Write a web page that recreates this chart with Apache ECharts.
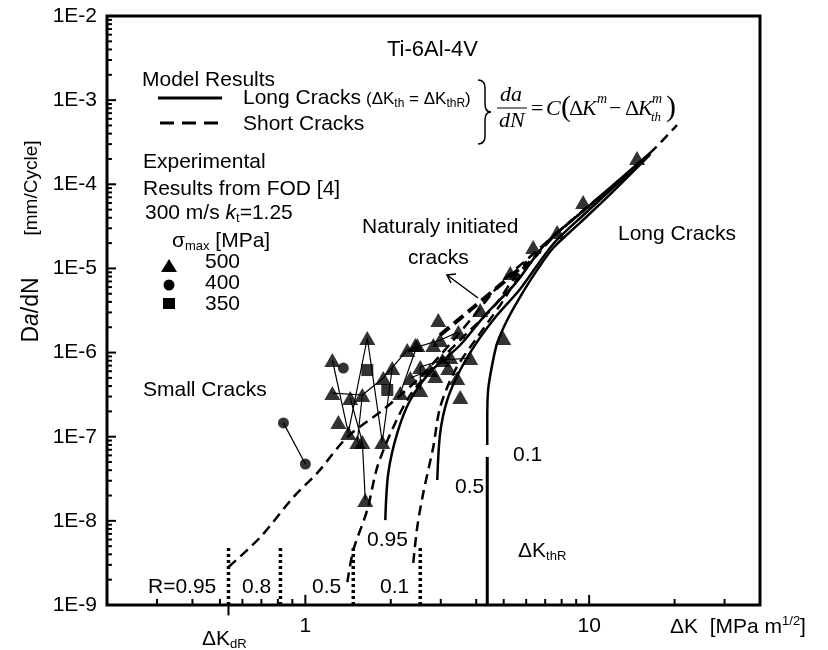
<!DOCTYPE html>
<html>
<head>
<meta charset="utf-8">
<script src="https://cdn.jsdelivr.net/npm/echarts@6/dist/echarts.min.js"></script>
<style>
html,body{margin:0;padding:0;background:#fff;}
#main{width:828px;height:650px;}
</style>
</head>
<body>
<div id="main"></div>
<script>
// axis ticks (log scale)
var xMajorTicks = [1, 10];
var xMinorTicks = [0.3, 0.4, 0.5, 0.6, 0.7, 0.8, 0.9, 2, 3, 4, 5, 6, 7, 8, 9, 20, 30];
var yDecades = [1e-9, 1e-8, 1e-7, 1e-6, 1e-5, 1e-4, 1e-3, 1e-2];
var yMinorFactors = [2, 3, 4, 5, 6, 7, 8, 9];
var xRange = [0.2, 40];
var yRange = [1e-9, 1e-2];
var dKdR = 0.536;   // ΔK_dR mark under the axis

// model curves, short cracks (dashed)
var shortR095 = [[0.536,2.83e-9],[0.695,6.43e-9],[0.908,1.92e-8],[1.102,3.71e-8],[1.406,9.91e-8],[1.913,2.19e-7],[2.541,5.13e-7],[3.374,1.49e-6],[4.131,3.39e-6],[4.981,7.2e-6],[6.053,1.29e-5],[7.715,2.64e-5],[11.2,7.66e-5],[16.4,2.36e-4],[20.4,5.06e-4]];
var shortR05 = [[1.406,1.87e-9],[1.476,4.5e-9],[1.653,1.35e-8],[1.793,4.37e-8],[2.042,1.3e-7],[2.343,3.13e-7],[2.87,7.11e-7],[3.66,1.62e-6],[4.667,3.67e-6],[5.49,8.0e-6],[6.561,1.5e-5],[7.715,2.64e-5],[11.2,7.66e-5]];
var shortR01 = [[2.40,3.16e-9],[2.479,8.45e-9],[2.603,2.14e-8],[2.823,7.55e-8],[2.986,2.25e-7],[3.374,6.2e-7],[3.97,1.41e-6],[4.861,3.67e-6],[5.715,8.5e-6],[6.561,1.45e-5],[7.715,2.64e-5],[11.2,7.66e-5]];
// model curves, long cracks (solid)
var longR095 = [[1.913,1.02e-8],[1.96,3.71e-8],[2.109,1.11e-7],[2.343,2.73e-7],[2.755,5.87e-7],[3.514,1.23e-6],[4.30,2.79e-6],[5.49,6.6e-6],[7.0,1.95e-5],[9.523,4.81e-5],[16.4,2.36e-4]];
var longR05 = [[2.917,3.06e-8],[2.986,1.11e-7],[3.162,2.73e-7],[3.514,6.2e-7],[4.03,1.34e-6],[4.743,2.79e-6],[5.715,5.7e-6],[7.47,1.95e-5],[9.68,4.5e-5],[16.4,2.3e-4]];
var longR01 = [[4.375,7.96e-8],[4.375,1.58e-7],[4.406,3.59e-7],[4.552,7.11e-7],[4.743,1.30e-6],[5.144,2.44e-6],[5.715,4.6e-6],[6.561,9.6e-6],[7.47,1.75e-5],[9.30,3.5e-5],[11.86,7.6e-5],[16.4,2.25e-4]];
var thresholdLine = [[4.375,1e-9],[4.375,5.74e-8]];
var naturalCracks = [[2.986,1.62e-6],[3.81,3.2e-6],[4.861,6.35e-6],[6.053,1.19e-5]];
// dotted ΔK_d lines for R = 0.95, 0.8, 0.5, 0.1
var dottedX = [0.536, 0.817, 1.475, 2.54];
var dottedTop = [4.89e-9, 5.1e-9, 4.9e-9, 4.9e-9];

// experimental points (FOD), sigma_max 500 / 400 / 350 MPa
var tri500 = [[1.245,8.16e-7],[1.417,1.11e-7],[1.653,1.49e-6],[1.867,8.65e-8],[2.024,6.55e-7],[1.245,3.30e-7],[1.588,3.13e-7],[1.439,2.88e-7],[1.588,8.65e-8],[1.626,1.77e-8],[1.307,1.50e-7],[1.524,8.65e-8],[1.882,4.99e-7],[2.286,1.07e-6],[2.161,3.30e-7],[2.479,1.23e-6],[2.986,1.41e-6],[3.46,1.75e-6],[2.541,3.59e-7],[2.541,6.73e-7],[3.04,8.16e-7],[3.81,8.61e-7],[2.343,4.99e-7],[2.755,6.2e-7],[3.24,8.85e-7],[2.94,2.44e-6],[2.44,1.23e-6],[2.823,1.23e-6],[3.188,6.55e-7],[2.87,5.26e-7],[3.429,4.99e-7],[3.514,2.96e-7],[4.981,1.49e-6],[4.131,3.2e-6],[5.271,8.83e-6],[6.35,1.8e-5],[7.715,2.71e-5],[9.523,6.15e-5],[14.75,2.05e-4]];
var tri500Paths = [
  [[1.245,8.16e-7],[1.417,1.11e-7],[1.653,1.49e-6],[1.867,8.65e-8],[2.024,6.55e-7]],
  [[1.245,3.30e-7],[1.588,3.13e-7]],
  [[1.439,2.88e-7],[1.588,8.65e-8],[1.626,1.77e-8]],
  [[1.524,8.65e-8],[1.588,3.13e-7],[1.882,4.99e-7],[2.286,1.07e-6]],
  [[2.161,3.30e-7],[2.479,1.23e-6]],
  [[2.286,1.07e-6],[2.986,1.41e-6],[3.46,1.75e-6]],
  [[2.541,3.59e-7],[2.541,6.73e-7],[3.04,8.16e-7],[3.81,8.61e-7]],
  [[2.343,4.99e-7],[2.755,6.2e-7],[3.24,8.85e-7]]
];
var cir400 = [[0.837,1.46e-7],[1.0,4.74e-8]];
var cir400Single = [[1.361,6.55e-7]];
var sq350 = [[1.653,6.2e-7],[1.944,3.59e-7]];

var F = 'Liberation Sans';
var FS = 'Liberation Serif';

function curve(data, dash, width, z) {
    return {
        type: 'line', data: data, symbol: 'none', smooth: 0.3, silent: true, z: z || 3,
        lineStyle: {color: '#000', width: width, type: dash}
    };
}
function seg(data, width, clip) {
    return {type: 'line', data: data, symbol: 'none', silent: true, z: 8, clip: clip !== false,
        lineStyle: {color: '#000', width: width}};
}

var series = [];
// tick marks as short segments on the axes (length given as a log-scale step)
xMajorTicks.forEach(function (v) { series.push(seg([[v, yRange[0]], [v, yRange[0] * 1.32]], 2)); });
xMinorTicks.forEach(function (v) { series.push(seg([[v, yRange[0]], [v, yRange[0] * 1.18]], 2)); });
series.push(seg([[dKdR, yRange[0]], [dKdR, yRange[0] / 1.33]], 2, false));
yDecades.forEach(function (d, i) {
    series.push(seg([[xRange[0], d], [xRange[0] * 1.076, d]], 2));
    if (i < yDecades.length - 1) {
        yMinorFactors.forEach(function (f) {
            series.push(seg([[xRange[0], d * f], [xRange[0] * 1.041, d * f]], 2));
        });
    }
});

series.push(
    curve(shortR095, [10, 6], 2.5),
    curve(shortR05, [10, 6], 2.5),
    curve(shortR01, [10, 6], 2.5),
    curve(longR095, 'solid', 2.5),
    curve(longR05, 'solid', 2.5),
    curve(longR01, 'solid', 2.5),
    curve(naturalCracks, [12, 6], 4),
    {type: 'line', data: thresholdLine, symbol: 'none', silent: true, lineStyle: {color: '#000', width: 3}}
);
dottedX.forEach(function (x, i) {
    series.push({type: 'line', data: [[x, yRange[0]], [x, dottedTop[i]]], symbol: 'none', silent: true,
        lineStyle: {color: '#000', width: 3.5, type: [3, 3]}});
});
tri500Paths.forEach(function (p) {
    series.push({type: 'line', data: p, symbol: 'none', silent: true, z: 4, lineStyle: {color: '#000', width: 1.2}});
});
series.push({type: 'line', data: cir400, symbol: 'none', silent: true, z: 4, lineStyle: {color: '#000', width: 1.2}});
series.push({type: 'scatter', data: tri500, symbol: 'triangle', symbolSize: [16, 14], silent: true, z: 6, itemStyle: {color: '#000'}});
series.push({type: 'scatter', data: cir400.concat(cir400Single), symbol: 'circle', symbolSize: 11, silent: true, z: 6, itemStyle: {color: '#000'}});
series.push({type: 'scatter', data: sq350, symbol: 'rect', symbolSize: 12, silent: true, z: 6, itemStyle: {color: '#000'}});

// text helpers
var RICH = {
    i: {fontFamily: F, fontSize: 21, fontStyle: 'italic'},
    i2: {fontFamily: F, fontSize: 23, fontStyle: 'italic'},
    g: {fontFamily: F, fontSize: 21},
    sub: {fontFamily: F, fontSize: 13, padding: [11, 0, 0, 0]},
    sub2: {fontFamily: F, fontSize: 12, padding: [9, 0, 0, 0]},
    sup: {fontFamily: F, fontSize: 13, padding: [0, 0, 11, 0]}
};
function T(x, y, text, size, extra) {
    var st = {text: text, fontFamily: F, fontSize: size || 21, fill: '#000',
        align: 'left', textAlign: 'left', verticalAlign: 'middle', textVerticalAlign: 'middle', rich: RICH};
    for (var k in extra) st[k] = extra[k];
    return {type: 'text', x: x, y: y, z: 20, style: st};
}
function M(x, y, text, size, italic) {
    return T(x, y, text, size || 22, {fontFamily: FS, fontStyle: italic === false ? 'normal' : 'italic'});
}
function L(x1, y1, x2, y2, w) {
    return {type: 'line', z: 20, shape: {x1: x1, y1: y1, x2: x2, y2: y2}, style: {stroke: '#000', lineWidth: w || 1.5}};
}
function Q(x1, y1, cx, cy, x2, y2) {
    return {type: 'bezierCurve', z: 20, shape: {x1: x1, y1: y1, cpx1: cx, cpy1: cy, x2: x2, y2: y2},
        style: {stroke: '#000', lineWidth: 1.5, fill: null}};
}
function V(x, y, text, size) {   // rotated (vertical) text
    var el = T(x, y, text, size);
    el.rotation = Math.PI / 2;
    el.style.align = el.style.textAlign = 'center';
    return el;
}

var graphics = [
    T(387, 50, 'Ti-6Al-4V', 22),
    T(142, 80, 'Model Results'),
    L(158, 98, 222, 98, 3),
    T(243, 98, 'Long Cracks'),
    T(366, 99, '(ΔK{sub2|th} = ΔK{sub2|thR})', 17),
    {type: 'line', z: 20, shape: {x1: 160, y1: 123, x2: 220, y2: 123}, style: {stroke: '#000', lineWidth: 3, lineDash: [14, 8]}},
    T(243, 124, 'Short Cracks'),
    T(143, 162, 'Experimental'),
    T(143, 189, 'Results from FOD [4]'),
    T(145, 213, '300 m/s {i|k}{sub|t}=1.25'),
    T(172, 241, '{g|σ}{sub|max} [MPa]'),
    {type: 'polygon', z: 20, shape: {points: [[161, 272], [177, 272], [169, 259]]}, style: {fill: '#000'}},
    {type: 'circle', z: 20, shape: {cx: 169, cy: 285, r: 5.5}, style: {fill: '#000'}},
    {type: 'rect', z: 20, shape: {x: 163, y: 298, width: 12, height: 11}, style: {fill: '#000'}},
    T(205, 262, '500'),
    T(205, 283, '400'),
    T(205, 304, '350'),
    T(362, 227, 'Naturaly initiated'),
    T(408, 258, 'cracks'),
    L(478, 298, 447, 275),
    {type: 'polyline', z: 20, shape: {points: [[456, 274], [447, 275], [451, 283]]}, style: {stroke: '#000', lineWidth: 1.5, fill: null}},
    T(618, 234, 'Long Cracks'),
    T(143, 390, 'Small Cracks'),
    T(148, 587, 'R=0.95'),
    T(242, 587, '0.8'),
    T(312, 587, '0.5'),
    T(380, 587, '0.1'),
    T(367, 540, '0.95'),
    T(455, 487, '0.5'),
    T(513, 455, '0.1'),
    T(518, 551, 'ΔK{sub|thR}'),
    T(202, 639, 'ΔK{sub|dR}'),
    T(670, 627, 'ΔK  [MPa m{sup|1/2}]'),
    V(32, 188, '[mm/Cycle]', 19),
    V(32, 310, 'D{i2|a}/dN', 23),
    // brace and equation
    Q(478, 80, 485, 80, 485, 88),
    L(485, 88, 485, 104),
    Q(485, 104, 485, 112, 491, 112),
    Q(491, 112, 485, 112, 485, 120),
    L(485, 120, 485, 136),
    Q(485, 136, 485, 144, 478, 144),
    M(500, 95, 'da'),
    L(497, 108, 527, 108, 1),
    M(499, 121, 'dN'),
    M(531, 109, '=', 22, false),
    M(546, 109, 'C'),
    M(561, 108, '(', 30, false),
    M(569, 109, 'Δ', 22, false),
    M(582, 109, 'K'),
    M(597, 99, 'm', 14),
    M(609, 109, '−', 22, false),
    M(625, 109, 'Δ', 22, false),
    M(638, 109, 'K'),
    M(652, 99, 'm', 14),
    M(651, 118, 'th', 13),
    M(666, 108, ')', 30, false)
];

var chart = echarts.init(document.getElementById('main'));
chart.setOption({
    animation: false,
    backgroundColor: '#fff',
    grid: {left: 107, top: 16, right: 68, bottom: 45, show: true, borderColor: '#000', borderWidth: 3,
        containLabel: false, outerBoundsMode: 'none'},
    xAxis: {
        type: 'log', logBase: 10, min: xRange[0], max: xRange[1],
        axisLine: {show: false}, splitLine: {show: false}, minorTick: {show: false}, axisTick: {show: false},
        axisLabel: {margin: 11, color: '#000', fontFamily: F, fontSize: 21,
            formatter: function (v) {
                var l = Math.log10(v);
                return Math.abs(l - Math.round(l)) < 1e-6 && l >= 0 ? String(Math.round(v)) : '';
            }}
    },
    yAxis: {
        type: 'log', logBase: 10, min: yRange[0], max: yRange[1],
        axisLine: {show: false}, splitLine: {show: false}, minorTick: {show: false}, axisTick: {show: false},
        axisLabel: {margin: 10, color: '#000', fontFamily: F, fontSize: 21,
            formatter: function (v) {
                var l = Math.log10(v);
                return Math.abs(l - Math.round(l)) < 1e-6 ? '1E' + Math.round(l) : '';
            }}
    },
    series: series,
    graphic: graphics
});
</script>
</body>
</html>
